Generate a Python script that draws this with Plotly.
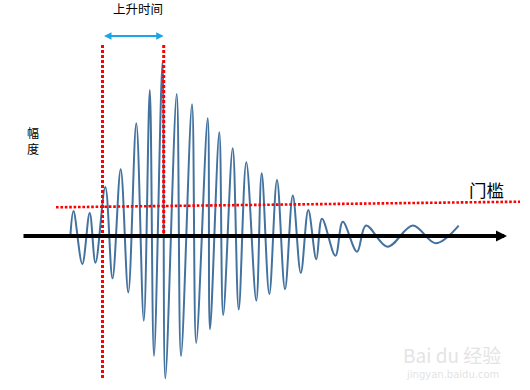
import plotly.graph_objects as go

W, H = 530, 390
AXIS_Y = 236  # pixel row of the time axis (amplitude 0)

# waveform extrema: time (px) and amplitude (px above axis)
wave_t = [70.5, 73.5, 82.3, 89.7, 95.5, 105.3, 112.5, 120.7, 128.3, 136.3, 143.8,
          149.8, 154.0, 162.5, 165.3, 176.7, 181.0, 192.0, 196.2, 207.7, 210.0,
          219.3, 223.2, 232.7, 238.7, 246.3, 256.3, 261.7, 269.3, 277.0, 285.0,
          292.8, 300.8, 308.3, 316.3, 322.0, 335.4, 342.8, 357.0, 366.0, 387.5,
          412.8, 435.7, 458.7]
wave_a = [2, 25, -28, 23, -26.7, 49, -42.3, 66.7, -56.5, 112.7, -84.7,
          146, -120, 174, -142.3, 142, -120, 131.7, -107, 117.7, -93.2,
          103.7, -79, 87.7, -73.5, 73.7, -64.8, 62.7, -58, 56, -53.2,
          40.5, -37, 26, -23.2, 17.3, -19.8, 14.3, -15.7, 10.5, -10.7,
          10.5, -7.3, 10.3]

# threshold line (start/end)
thr_t = [56, 520]
thr_a = [28.7, 34.3]

# rise-time markers
rise_start, rise_end = 102.5, 163.7
rise_top = AXIS_Y - 45
rise_bottom1 = AXIS_Y - 378
rise_bottom2 = 0

labels = {"rise": "上升时间", "amp": "幅<br>度", "thr": "门槛"}

fig = go.Figure()
fig.add_trace(go.Scatter(x=wave_t, y=wave_a, mode="lines",
                         line=dict(color="#44729f", width=2, shape="spline", smoothing=1.0),
                         hoverinfo="skip"))

RED = "#ff0000"
shapes = [
    dict(type="line", x0=thr_t[0], y0=thr_a[0], x1=thr_t[1], y1=thr_a[1],
         line=dict(color=RED, width=2.6, dash="2.6px,1.8px")),
    dict(type="line", x0=rise_start, y0=rise_top, x1=rise_start, y1=rise_bottom1,
         line=dict(color=RED, width=3, dash="3px,2px")),
    dict(type="line", x0=rise_end, y0=rise_top, x1=rise_end, y1=rise_bottom2,
         line=dict(color=RED, width=3, dash="3px,2px")),
]

CJK = "Noto Sans CJK SC"
annotations = [
    # time axis arrow
    dict(x=507, y=0, ax=22, ay=0, xref="x", yref="y", axref="x", ayref="y",
         text="", showarrow=True, arrowhead=2, arrowsize=0.55, arrowwidth=4,
         arrowcolor="black"),
    # rise time double arrow
    dict(x=rise_end, y=AXIS_Y - 36, ax=rise_start, ay=AXIS_Y - 36, xref="x", yref="y",
         axref="x", ayref="y", text="", showarrow=True, arrowside="end+start",
         arrowhead=2, startarrowhead=2, arrowsize=0.75, startarrowsize=0.75,
         arrowwidth=2, arrowcolor="#1aa6e6"),
    dict(x=137.5, y=AXIS_Y - 8.5, xref="x", yref="y", text=labels["rise"], showarrow=False,
         font=dict(family=CJK, size=12.5, color="black")),
    dict(x=32.5, y=AXIS_Y - 140.5, xref="x", yref="y", text=labels["amp"], showarrow=False,
         font=dict(family=CJK, size=12, color="black")),
    dict(x=486.7, y=AXIS_Y - 189.2, xref="x", yref="y", text=labels["thr"], showarrow=False,
         font=dict(family=CJK, size=17.5, color="black")),
    # watermark
    dict(x=452, y=AXIS_Y - 354, xref="x", yref="y", text="Bai du 经验", showarrow=False,
         font=dict(family="Noto Sans CJK SC", size=19, color="#e4e4e4")),
    dict(x=452, y=AXIS_Y - 374, xref="x", yref="y", text="jingyan.baidu.com", showarrow=False,
         font=dict(family="DejaVu Sans", size=10, color="#e4e4e4")),
]

fig.update_layout(
    width=W, height=H, margin=dict(l=0, r=0, t=0, b=0),
    paper_bgcolor="white", plot_bgcolor="white", showlegend=False,
    xaxis=dict(range=[0, W], visible=False, fixedrange=True),
    yaxis=dict(range=[AXIS_Y - H, AXIS_Y], visible=False, fixedrange=True),
    shapes=shapes, annotations=annotations,
)
fig.write_html("out.html")
